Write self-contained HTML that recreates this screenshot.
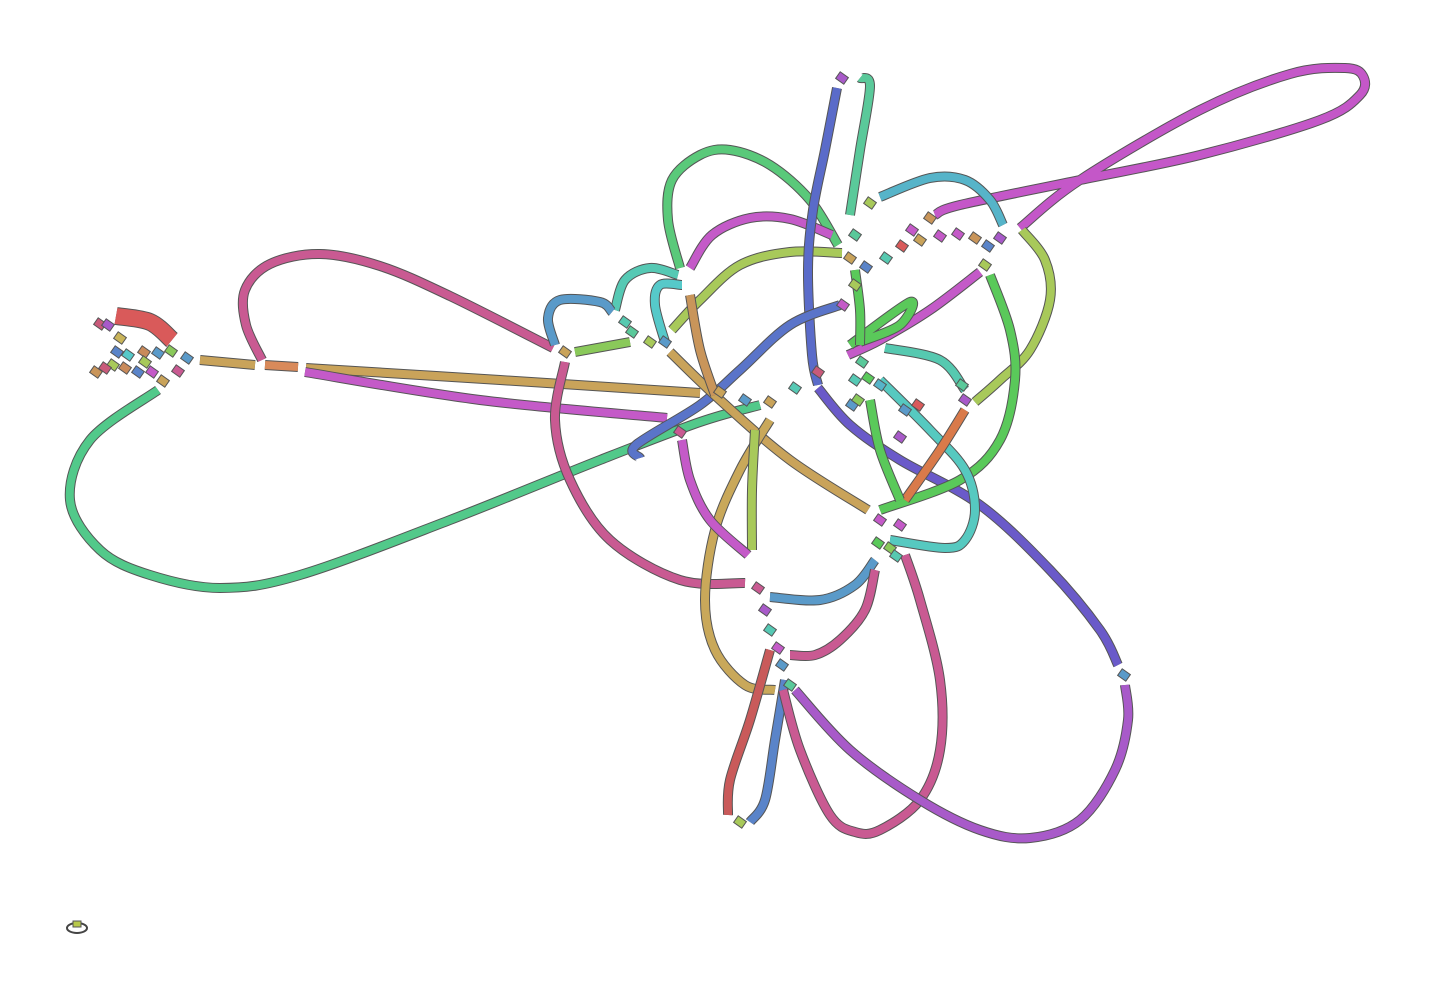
<!DOCTYPE html>
<html><head><meta charset="utf-8"><style>
html,body{margin:0;padding:0;background:#fff;width:1431px;height:1000px;overflow:hidden}
svg{display:block}
</style></head><body>
<svg id="graph" width="1431" height="1000" viewBox="0 0 1431 1000" xmlns="http://www.w3.org/2000/svg">
<g id="edges"></g>
<g id="nodes"></g>
<ellipse cx="77" cy="928" rx="10" ry="5" fill="none" stroke="#444" stroke-width="2"/>
<rect x="73" y="921" width="8" height="6" fill="#b8c94a" stroke="#555" stroke-width="1"/>
</svg>
<script>
const segColors = ["#c457c8","#52c98a","#c95a92","#c9a35a","#c45ac8","#c95a92","#5ac97a","#c45ac8","#a8c95a","#5a6bc9","#6a5ac9","#5ac99a","#56b4c9","#a8c95a","#5ac95a","#c45ac8","#5a74c9","#56c9b0","#56c9c0","#d97a4a","#c9a35a","#c9a85a","#a8c95a","#c45ac8","#5a9ac9","#c95a92","#c95a5a","#5a84c9","#c95a92","#a85ac9","#56c9b4","#5a9ac9","#56c9c9","#8ac95a","#5ac95a","#c9955a","#5ac95a","#5ac95a","#c9a35a","#d95a5a","#d98a5a"];
const segPoints = [
 [[1020,228],[1080,180],[1200,110],[1290,74],[1345,68],[1363,76],[1360,95],[1320,120],[1200,155],[1080,180],[960,205],[935,215]],
 [[158,390],[90,440],[70,500],[100,550],[150,575],[220,588],[300,575],[450,520],[600,460],[700,422],[760,405]],
 [[262,360],[246,325],[245,290],[270,264],[320,254],[380,266],[450,296],[553,348]],
 [[306,368],[500,380],[700,393]],
 [[305,372],[480,400],[667,418]],
 [[565,362],[555,420],[570,480],[610,540],[680,580],[745,583]],
 [[680,268],[668,220],[672,180],[700,155],[730,150],[770,165],[810,200],[838,245]],
 [[690,268],[712,235],[750,218],[790,219],[832,235]],
 [[672,330],[700,300],[740,265],[790,252],[842,253]],
 [[837,88],[825,150],[813,210],[808,270],[812,355],[818,385]],
 [[818,388],[850,425],[900,460],[980,505],[1050,570],[1100,630],[1118,665]],
 [[860,78],[870,86],[860,150],[850,215]],
 [[880,197],[930,178],[965,180],[990,200],[1003,225]],
 [[1022,230],[1045,260],[1050,300],[1030,350],[1000,380],[975,402]],
 [[990,275],[1010,330],[1015,380],[1000,440],[960,480],[880,510]],
 [[980,272],[930,310],[880,340],[848,355]],
 [[640,458],[636,445],[700,405],[740,370],[790,325],[840,305]],
 [[885,348],[940,360],[965,390]],
 [[880,380],[930,430],[965,470],[975,510],[965,540],[945,548],[890,540]],
 [[965,410],[940,450],[905,500]],
 [[670,352],[720,400],[790,460],[868,510]],
 [[770,420],[740,470],[715,530],[705,600],[715,650],[745,685],[775,690]],
 [[755,430],[752,490],[752,550]],
 [[682,440],[690,480],[710,520],[748,555]],
 [[770,597],[820,600],[855,585],[875,560]],
 [[790,655],[815,655],[840,640],[865,610],[875,570]],
 [[770,650],[750,720],[730,780],[728,815]],
 [[785,680],[775,740],[765,800],[750,822]],
 [[783,690],[800,750],[830,815],[855,832],[880,830],[920,800],[940,750],[940,680],[920,600],[905,555]],
 [[795,690],[850,750],[920,800],[980,830],[1030,838],[1080,820],[1115,770],[1128,720],[1125,685]],
 [[615,310],[625,280],[650,268],[678,275]],
 [[555,345],[548,318],[560,300],[600,302],[612,312]],
 [[665,342],[655,305],[660,285],[682,285]],
 [[575,352],[630,342]],
 [[850,345],[910,302],[900,325],[860,342]],
 [[690,295],[700,350],[715,395]],
 [[855,270],[860,310],[860,345]],
 [[870,400],[880,450],[900,500]],
 [[200,360],[255,365]],
 [[116,316],[150,322],[172,340]],
 [[265,365],[298,367]]
];
const nodeBlocks = [
 [842,78,"#a85ac9"],[870,203,"#a8c95a"],[855,235,"#5ac99a"],[850,258,"#c9a35a"],[866,267,"#5a84c9"],[886,258,"#56c9b0"],[902,246,"#d95a5a"],[920,240,"#c9a35a"],[940,236,"#c45ac8"],[958,234,"#c45ac8"],[975,238,"#c9955a"],[988,246,"#5a84c9"],[1000,238,"#a85ac9"],[985,265,"#a8c95a"],[930,218,"#c9955a"],[912,230,"#c45ac8"],
 [855,285,"#a8c95a"],[843,305,"#c45ac8"],[862,362,"#5ac99a"],[855,380,"#56c9b4"],[868,378,"#5ac95a"],[880,385,"#56b4c9"],[852,405,"#5a9ac9"],[858,400,"#8ac95a"],[905,410,"#5a9ac9"],[918,405,"#d95a5a"],[900,437,"#a85ac9"],[818,372,"#c95a7a"],[795,388,"#56c9b4"],[770,402,"#c9a35a"],[745,400,"#5a9ac9"],[720,392,"#c9a35a"],
 [625,322,"#56c9b0"],[632,332,"#5ac99a"],[650,342,"#a8c95a"],[665,342,"#5a9ac9"],[565,352,"#c9a35a"],[680,432,"#c95a92"],
 [880,520,"#c45ac8"],[878,543,"#5ac95a"],[890,548,"#8ac95a"],[896,556,"#56c9b0"],[900,525,"#c45ac8"],[758,588,"#c95a92"],[765,610,"#a85ac9"],[770,630,"#56c9b4"],[778,648,"#c45ac8"],[782,665,"#5a9ac9"],[790,685,"#5ac99a"],[740,822,"#a8c95a"],[1124,675,"#5a9ac9"],[965,400,"#a85ac9"],[962,385,"#5ac99a"],
 [100,324,"#c95a7a"],[108,325,"#a85ac9"],[120,338,"#c9b45a"],[117,352,"#5a84c9"],[128,355,"#56c9c9"],[144,352,"#c98a5a"],[145,362,"#a8c95a"],[158,353,"#5a9ac9"],[171,351,"#8ac95a"],[187,358,"#5a9ac9"],[113,365,"#a8c95a"],[105,368,"#c95a7a"],[96,372,"#c9955a"],[125,368,"#c98a5a"],[138,372,"#5a84c9"],[152,372,"#c45ac8"],[163,381,"#c9a35a"],[178,371,"#c95a92"]
];
function smoothPath(p){
  if(p.length<3){return "M"+p.map(q=>q.join(",")).join("L");}
  let d="M"+p[0][0]+","+p[0][1];
  for(let i=0;i<p.length-1;i++){
    const p0=p[i-1]||p[i],p1=p[i],p2=p[i+1],p3=p[i+2]||p2;
    const c1=[p1[0]+(p2[0]-p0[0])/6,p1[1]+(p2[1]-p0[1])/6];
    const c2=[p2[0]-(p3[0]-p1[0])/6,p2[1]-(p3[1]-p1[1])/6];
    d+=" C"+c1.join(",")+" "+c2.join(",")+" "+p2.join(",");
  }
  return d;
}
const NS="http://www.w3.org/2000/svg";
const eg=document.getElementById("edges");
segPoints.forEach((pts,i)=>{
  const d=smoothPath(pts);
  const w=(i===39)?16:8;
  const o=document.createElementNS(NS,"path");
  o.setAttribute("d",d);o.setAttribute("fill","none");o.setAttribute("stroke","#555");o.setAttribute("stroke-width",w+2);o.setAttribute("stroke-linecap","butt");
  
  
  eg.appendChild(o);
  const p=document.createElementNS(NS,"path");
  p.setAttribute("d",d);p.setAttribute("fill","none");p.setAttribute("stroke",segColors[i%segColors.length]);p.setAttribute("stroke-width",w);p.setAttribute("stroke-linecap","butt");
  
  
  eg.appendChild(p);
});
const ng=document.getElementById("nodes");
nodeBlocks.forEach(n=>{
  const r=document.createElementNS(NS,"rect");
  r.setAttribute("x",n[0]-5);r.setAttribute("y",n[1]-4);r.setAttribute("width",10);r.setAttribute("height",8);
  r.setAttribute("fill",n[2]);r.setAttribute("stroke","#555");r.setAttribute("stroke-width",1);
  r.setAttribute("transform","rotate(35 "+n[0]+" "+n[1]+")");
  
  
  ng.appendChild(r);
});
</script>
</body></html>
